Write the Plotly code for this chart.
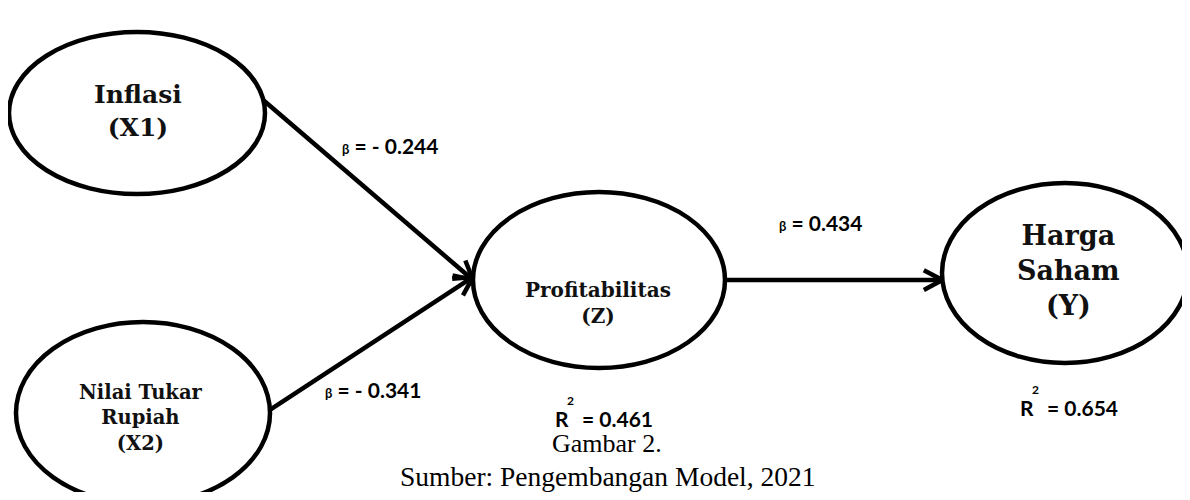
import math
import plotly.graph_objects as go

# ---------------- data ----------------
node_ids = ["X1", "X2", "Z", "Y"]
node_labels = ["Inflasi<br>(X1)", "Nilai Tukar<br>Rupiah<br>(X2)", "Profitabilitas<br>(Z)", "Harga<br>Saham<br>(Y)"]
edge_from = ["X1", "X2", "Z"]
edge_to = ["Z", "Z", "Y"]
beta_values = [-0.244, -0.341, 0.434]
r2_nodes = ["Z", "Y"]
r2_values = [0.461, 0.654]
caption_lines = ["Gambar 2.", "Sumber: Pengembangan Model, 2021"]

# ---------------- layout (positions / sizes / styles) ----------------
W, H = 1190, 500
PAD = 8  # default page body margin; the data space is in window pixels
node_geom = {  # cx, cy, rx, ry  (window pixel space)
    "X1": (137, 113, 128, 81),
    "X2": (143, 413, 127, 91),
    "Z": (599, 280, 126, 88),
    "Y": (1065, 273, 123, 90),
}
node_text_pos = {"X1": (138, 111), "X2": (141, 418), "Z": (598, 303), "Y": (1068, 270)}
node_font = {"X1": 25, "X2": 19.5, "Z": 20, "Y": 27}
edge_angles = [(-9, 180), (-2, 182), (0, 175.5)]  # source / target angle on ellipse
beta_pos = [(340, 145), (323, 389), (777, 222)]
r2_pos = {"Z": (553, 418), "Y": (1018, 407)}
caption_pos = [(607, 443), (608, 476)]
caption_size = [26, 27.5]

LW = 4.5
SANS = "Lato"
SERIF = "DejaVu Serif"


def ell_point(nid, ang):
    cx, cy, rx, ry = node_geom[nid]
    a = math.radians(ang)
    return cx + rx * math.cos(a), cy + ry * math.sin(a)


def fmt_beta(v):
    return ("- %.3f" % abs(v)) if v < 0 else ("%.3f" % v)


fig = go.Figure()
shapes = []
annotations = []

# ellipses
for nid in node_ids:
    cx, cy, rx, ry = node_geom[nid]
    shapes.append(dict(type="circle", xref="x", yref="y",
                       x0=cx - rx, x1=cx + rx, y0=cy - ry, y1=cy + ry,
                       line=dict(color="black", width=LW), fillcolor="white", layer="above"))

# arrows
for (src, tgt), (a0, a1) in zip(zip(edge_from, edge_to), edge_angles):
    x0, y0 = ell_point(src, a0)
    x1, y1 = ell_point(tgt, a1)
    shapes.append(dict(type="line", xref="x", yref="y", x0=x0, y0=y0, x1=x1, y1=y1,
                       line=dict(color="black", width=LW), layer="above"))
    dx, dy = x1 - x0, y1 - y0
    d = math.hypot(dx, dy)
    ux, uy = dx / d, dy / d
    L = 21
    for s in (1, -1):
        t = math.radians(28 * s)
        wx = ux * math.cos(t) - uy * math.sin(t)
        wy = ux * math.sin(t) + uy * math.cos(t)
        path = "M %.2f %.2f L %.2f %.2f" % (x1 - L * wx, y1 - L * wy, x1, y1)
        shapes.append(dict(type="path", xref="x", yref="y", path=path,
                           line=dict(color="black", width=LW), layer="above"))

# node labels
for nid, lab in zip(node_ids, node_labels):
    x, y = node_text_pos[nid]
    txt = "<br>".join("<b>%s</b>" % p for p in lab.split("<br>"))
    annotations.append(dict(x=x, y=y, xref="x", yref="y", text=txt, showarrow=False,
                            xanchor="center", yanchor="middle", align="center",
                            font=dict(family=SERIF, size=node_font[nid], color="#111")))

# beta labels
for v, (x, y) in zip(beta_values, beta_pos):
    txt = "<b><span style='font-size:13px'>β</span> = %s</b>" % fmt_beta(v)
    annotations.append(dict(x=x, y=y, xref="x", yref="y", text=txt, showarrow=False,
                            xanchor="left", yanchor="middle",
                            font=dict(family=SANS, size=21, color="black")))

# R2 labels
for nid, v in zip(r2_nodes, r2_values):
    x, y = r2_pos[nid]
    annotations.append(dict(x=x, y=y, xref="x", yref="y", text="<b>R</b>", showarrow=False,
                            xanchor="left", yanchor="middle",
                            font=dict(family=SANS, size=21, color="black")))
    annotations.append(dict(x=x + 12, y=y - 18, xref="x", yref="y", text="<b>2</b>", showarrow=False,
                            xanchor="left", yanchor="middle",
                            font=dict(family=SANS, size=12, color="black")))
    annotations.append(dict(x=x + 27, y=y, xref="x", yref="y", text="<b>= %.3f</b>" % v, showarrow=False,
                            xanchor="left", yanchor="middle",
                            font=dict(family=SANS, size=21, color="black")))

# caption
for t, (x, y), s in zip(caption_lines, caption_pos, caption_size):
    annotations.append(dict(x=x, y=y, xref="x", yref="y", text=t, showarrow=False,
                            xanchor="center", yanchor="middle",
                            font=dict(family="Liberation Serif", size=s, color="black")))

fig.update_layout(
    width=W - 2 * PAD, height=H - 2 * PAD, margin=dict(l=0, r=0, t=0, b=0, pad=0),
    paper_bgcolor="white", plot_bgcolor="white",
    xaxis=dict(range=[PAD, W - PAD], visible=False, fixedrange=True),
    yaxis=dict(range=[H - PAD, PAD], visible=False, fixedrange=True),
    shapes=shapes, annotations=annotations, showlegend=False,
)

fig.write_html("out.html")
